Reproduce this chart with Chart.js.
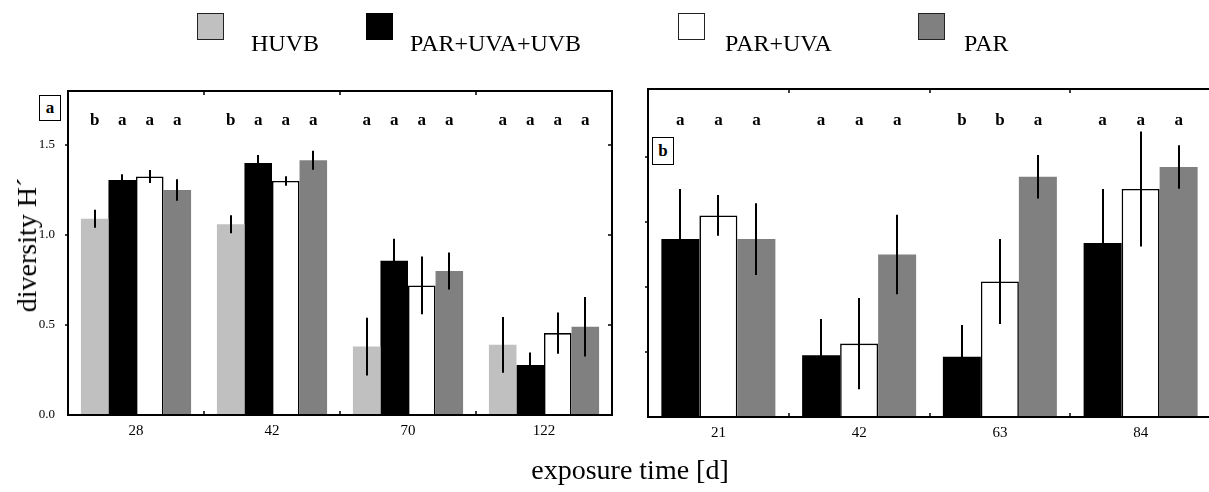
<!DOCTYPE html>
<html><head><meta charset="utf-8">
<script src="https://cdn.jsdelivr.net/npm/chart.js@4.4.1/dist/chart.umd.min.js"></script>
<style>
html,body{margin:0;padding:0;background:#fff;overflow:hidden;width:1209px;height:492px;}
#wrap{position:relative;width:1209px;height:492px;overflow:hidden;font-family:"Liberation Serif","Times New Roman",serif;color:#000;}
canvas{position:absolute;top:0;}
.lbox{position:absolute;top:13px;width:27px;height:27px;border:1.5px solid #222;box-sizing:border-box;}
.ltext{position:absolute;top:31px;font-size:24px;line-height:24px;white-space:nowrap;}
.pbox{position:absolute;border:1.5px solid #000;box-sizing:border-box;background:#fff;font-weight:bold;font-size:17px;text-align:center;z-index:5;}
.title{position:absolute;font-size:28px;line-height:28px;white-space:nowrap;z-index:4;}
</style></head><body>
<div id="wrap">
<canvas id="cL" width="640" height="492" style="left:0px"></canvas>
<canvas id="cR" width="600" height="492" style="left:630px"></canvas>
<div id="legend"></div>
<div class="pbox" style="left:39px;top:95px;width:22px;height:26px;line-height:23px;">a</div>
<div class="pbox" style="left:652px;top:137px;width:22px;height:28px;line-height:25px;">b</div>
<div class="title" id="ytitle" style="left:27px;top:245px;transform:translate(-50%,-50%) rotate(-90deg);">diversity H´</div>
<div class="title" id="xtitle" style="left:630px;top:456px;transform:translateX(-50%);">exposure time [d]</div>
</div>
<script>
// ---- data ----
const seriesNames = ["HUVB", "PAR+UVA+UVB", "PAR+UVA", "PAR"];
const seriesColors = ["#c0c0c0", "#000000", "#ffffff", "#808080"];

const leftCategories = ["28", "42", "70", "122"];
const leftHUVB      = [1.09, 1.06, 0.38, 0.39];
const leftHUVBErr   = [0.05, 0.05, 0.16, 0.155];
const leftFull      = [1.305, 1.40, 0.857, 0.278];
const leftFullErr   = [0.032, 0.045, 0.122, 0.069];
const leftUVA       = [1.325, 1.30, 0.72, 0.455];
const leftUVAErr    = [0.036, 0.026, 0.16, 0.115];
const leftPAR       = [1.25, 1.415, 0.80, 0.49];
const leftPARErr    = [0.06, 0.053, 0.103, 0.165];
const leftLetters   = [["b","a","a","a"], ["b","a","a","a"], ["a","a","a","a"], ["a","a","a","a"]];
const leftYTicks    = [0, 0.5, 1.0, 1.5];

const rightCategories = ["21", "42", "63", "84"];
const rightFull     = [1.367, 0.475, 0.462, 1.336];
const rightFullErr  = [0.385, 0.277, 0.244, 0.415];
const rightUVA      = [1.549, 0.564, 1.041, 1.752];
const rightUVAErr   = [0.156, 0.35, 0.326, 0.442];
const rightPAR      = [1.367, 1.249, 1.846, 1.921];
const rightPARErr   = [0.276, 0.305, 0.167, 0.167];
const rightLetters  = [["a","a","a"], ["a","a","a"], ["b","b","a"], ["a","a","a"]];
const rightYTicks   = [0, 0.5, 1.0, 1.5, 2.0];

// ---- legend (HTML text) ----
const legendBoxX = [197, 366, 678, 918];
const legendTextX = [251, 410, 725, 964];
(function(){
  const lg = document.getElementById('legend');
  seriesNames.forEach((n, i) => {
    const b = document.createElement('div');
    b.className = 'lbox';
    b.style.left = legendBoxX[i] + 'px';
    b.style.background = seriesColors[i];
    if (i === 1) b.style.borderColor = '#000';
    lg.appendChild(b);
    const t = document.createElement('div');
    t.className = 'ltext';
    t.style.left = legendTextX[i] + 'px';
    t.textContent = n;
    lg.appendChild(t);
  });
})();

const SERIF = '"Liberation Serif","Times New Roman",serif';

const decor = {
  id: 'decor',
  afterDatasetsDraw(chart, args, opts) {
    const ctx = chart.ctx, y = chart.scales.y;
    ctx.save();
    ctx.strokeStyle = '#000';
    ctx.lineWidth = 2;
    chart.data.datasets.forEach((ds, di) => {
      const meta = chart.getDatasetMeta(di);
      meta.data.forEach((el, i) => {
        const v = ds.data[i], e = ds.err[i];
        ctx.beginPath();
        ctx.moveTo(Math.round(el.x), y.getPixelForValue(v + e));
        ctx.lineTo(Math.round(el.x), y.getPixelForValue(Math.max(0, v - e)));
        ctx.stroke();
      });
    });
    ctx.restore();
  },
  afterDraw(chart, args, opts) {
    const ctx = chart.ctx, a = chart.chartArea, x = chart.scales.x, y = chart.scales.y;
    ctx.save();
    ctx.strokeStyle = '#000';
    ctx.lineWidth = 2;
    ctx.strokeRect(a.left, a.top, a.right - a.left, a.bottom - a.top);
    ctx.lineWidth = 1.5;
    const tl = 4;
    const n = chart.data.labels.length;
    for (let i = 0; i < n - 1; i++) {
      const bx = Math.round((x.getPixelForValue(i) + x.getPixelForValue(i + 1)) / 2);
      ctx.beginPath(); ctx.moveTo(bx, a.top); ctx.lineTo(bx, a.top + tl); ctx.stroke();
      ctx.beginPath(); ctx.moveTo(bx, a.bottom); ctx.lineTo(bx, a.bottom - tl); ctx.stroke();
    }
    opts.valueTicks.forEach(v => {
      if (v <= 0) return;
      const py = Math.round(y.getPixelForValue(v));
      ctx.beginPath(); ctx.moveTo(a.left, py); ctx.lineTo(a.left - 3, py); ctx.stroke();
      if (opts.rightTicks) { ctx.beginPath(); ctx.moveTo(a.right, py); ctx.lineTo(a.right - 4, py); ctx.stroke(); }
    });
    ctx.fillStyle = '#000';
    ctx.font = 'bold 17px ' + SERIF;
    ctx.textAlign = 'center';
    ctx.textBaseline = 'middle';
    chart.data.datasets.forEach((ds, di) => {
      const meta = chart.getDatasetMeta(di);
      meta.data.forEach((el, i) => {
        ctx.fillText(opts.letters[i][di], el.x, opts.letterY);
      });
    });
    ctx.restore();
  }
};

function makeDs(label, color, data, err) {
  return {
    label, data, err,
    backgroundColor: color,
    borderColor: '#000',
    borderWidth: color === '#ffffff' ? 1.6 : 0,
    borderSkipped: 'start',
    categoryPercentage: 0.81,
    barPercentage: 1.0
  };
}

function makeChart(id, labels, datasets, opt) {
  return new Chart(document.getElementById(id), {
    type: 'bar',
    data: { labels, datasets },
    plugins: [decor],
    options: {
      responsive: false,
      animation: false,
      devicePixelRatio: 1,
      layout: { padding: { top: opt.top, right: opt.right, left: 0, bottom: 0 } },
      plugins: {
        legend: { display: false },
        tooltip: { enabled: false },
        decor: { letters: opt.letters, letterY: 121, valueTicks: opt.valueTicks, rightTicks: opt.rightTicks }
      },
      scales: {
        x: {
          offset: true,
          grid: { display: false, drawTicks: false },
          border: { display: false },
          ticks: { color: '#000', font: { family: SERIF, size: 15 }, padding: 7, maxRotation: 0 },
          afterFit: s => { s.height = opt.xh; }
        },
        y: {
          min: 0, max: opt.max,
          grid: { display: false },
          border: { display: false },
          afterBuildTicks: s => { s.ticks = opt.valueTicks.map(v => ({ value: v })); },
          ticks: {
            display: opt.showY,
            color: '#000', font: { family: SERIF, size: 13 }, padding: 5,
            callback: v => v.toFixed(1)
          },
          afterFit: s => { s.width = opt.yw; }
        }
      }
    }
  });
}

makeChart('cL', leftCategories, [
  makeDs(seriesNames[0], seriesColors[0], leftHUVB, leftHUVBErr),
  makeDs(seriesNames[1], seriesColors[1], leftFull, leftFullErr),
  makeDs(seriesNames[2], seriesColors[2], leftUVA, leftUVAErr),
  makeDs(seriesNames[3], seriesColors[3], leftPAR, leftPARErr)
], { top: 91, right: 28, xh: 77, yw: 68, max: 1.8, letters: leftLetters, valueTicks: leftYTicks, rightTicks: true, showY: true });

makeChart('cR', rightCategories, [
  makeDs(seriesNames[1], seriesColors[1], rightFull, rightFullErr),
  makeDs(seriesNames[2], seriesColors[2], rightUVA, rightUVAErr),
  makeDs(seriesNames[3], seriesColors[3], rightPAR, rightPARErr)
], { top: 89, right: 19, xh: 75, yw: 18, max: 2.52, letters: rightLetters, valueTicks: rightYTicks, rightTicks: false, showY: false });
</script>
</body></html>
